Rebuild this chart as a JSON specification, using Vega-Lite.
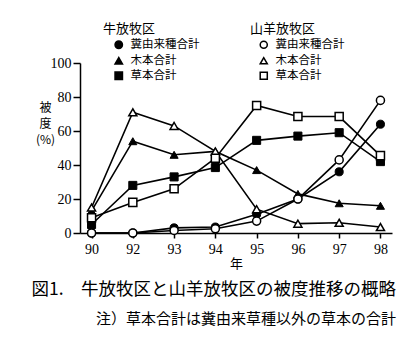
{
  "$schema": "https://vega.github.io/schema/vega-lite/v6.json",
  "width": 312,
  "height": 170,
  "autosize": "none",
  "padding": {"left": 80, "top": 63, "right": 26, "bottom": 119},
  "background": "white",
  "config": {
    "view": {"stroke": null},
    "font": "Noto Sans CJK JP",
    "axis": {"domainColor": "black", "tickColor": "black", "labelColor": "black", "titleColor": "black", "grid": false, "domainWidth": 1.5, "tickWidth": 1.5},
    "legend": {"titleFont": "Noto Sans CJK JP", "labelFont": "Noto Sans CJK JP", "titleFontWeight": "normal", "titleFontSize": 13, "labelFontSize": 11.5, "titleColor": "black", "labelColor": "black", "padding": 0}
  },
  "title": {
    "text": "図1.　牛放牧区と山羊放牧区の被度推移の概略",
    "subtitle": "注）草本合計は糞由来草種以外の草本の合計",
    "orient": "bottom",
    "anchor": "end",
    "frame": "group",
    "offset": 11,
    "dx": 4,
    "font": "Noto Sans CJK JP",
    "fontSize": 17.5,
    "fontWeight": "normal",
    "color": "black",
    "subtitleFont": "Noto Sans CJK JP",
    "subtitleFontSize": 15,
    "subtitleColor": "black",
    "subtitlePadding": 13
  },
  "data": {
    "values": [
      {"region": "牛", "type": "糞由来種合計", "year": "90", "value": 0},
      {"region": "牛", "type": "糞由来種合計", "year": "92", "value": 0},
      {"region": "牛", "type": "糞由来種合計", "year": "93", "value": 3},
      {"region": "牛", "type": "糞由来種合計", "year": "94", "value": 3.5},
      {"region": "牛", "type": "糞由来種合計", "year": "95", "value": 11},
      {"region": "牛", "type": "糞由来種合計", "year": "96", "value": 20},
      {"region": "牛", "type": "糞由来種合計", "year": "97", "value": 36},
      {"region": "牛", "type": "糞由来種合計", "year": "98", "value": 64},
      {"region": "牛", "type": "木本合計", "year": "90", "value": 13},
      {"region": "牛", "type": "木本合計", "year": "92", "value": 54},
      {"region": "牛", "type": "木本合計", "year": "93", "value": 46},
      {"region": "牛", "type": "木本合計", "year": "94", "value": 48},
      {"region": "牛", "type": "木本合計", "year": "95", "value": 37},
      {"region": "牛", "type": "木本合計", "year": "96", "value": 23},
      {"region": "牛", "type": "木本合計", "year": "97", "value": 17.5},
      {"region": "牛", "type": "木本合計", "year": "98", "value": 16},
      {"region": "牛", "type": "草本合計", "year": "90", "value": 5},
      {"region": "牛", "type": "草本合計", "year": "92", "value": 28},
      {"region": "牛", "type": "草本合計", "year": "93", "value": 33},
      {"region": "牛", "type": "草本合計", "year": "94", "value": 38.5},
      {"region": "牛", "type": "草本合計", "year": "95", "value": 54.5},
      {"region": "牛", "type": "草本合計", "year": "96", "value": 57},
      {"region": "牛", "type": "草本合計", "year": "97", "value": 59},
      {"region": "牛", "type": "草本合計", "year": "98", "value": 42},
      {"region": "山羊", "type": "糞由来種合計", "year": "90", "value": 0},
      {"region": "山羊", "type": "糞由来種合計", "year": "92", "value": 0},
      {"region": "山羊", "type": "糞由来種合計", "year": "93", "value": 1.5},
      {"region": "山羊", "type": "糞由来種合計", "year": "94", "value": 2.5},
      {"region": "山羊", "type": "糞由来種合計", "year": "95", "value": 7},
      {"region": "山羊", "type": "糞由来種合計", "year": "96", "value": 20},
      {"region": "山羊", "type": "糞由来種合計", "year": "97", "value": 43},
      {"region": "山羊", "type": "糞由来種合計", "year": "98", "value": 78},
      {"region": "山羊", "type": "木本合計", "year": "90", "value": 15},
      {"region": "山羊", "type": "木本合計", "year": "92", "value": 71},
      {"region": "山羊", "type": "木本合計", "year": "93", "value": 63},
      {"region": "山羊", "type": "木本合計", "year": "94", "value": 48},
      {"region": "山羊", "type": "木本合計", "year": "95", "value": 14},
      {"region": "山羊", "type": "木本合計", "year": "96", "value": 5.5},
      {"region": "山羊", "type": "木本合計", "year": "97", "value": 6},
      {"region": "山羊", "type": "木本合計", "year": "98", "value": 3.5},
      {"region": "山羊", "type": "草本合計", "year": "90", "value": 9},
      {"region": "山羊", "type": "草本合計", "year": "92", "value": 18},
      {"region": "山羊", "type": "草本合計", "year": "93", "value": 26},
      {"region": "山羊", "type": "草本合計", "year": "94", "value": 44},
      {"region": "山羊", "type": "草本合計", "year": "95", "value": 75},
      {"region": "山羊", "type": "草本合計", "year": "96", "value": 68.5},
      {"region": "山羊", "type": "草本合計", "year": "97", "value": 68.5},
      {"region": "山羊", "type": "草本合計", "year": "98", "value": 45.5}
    ]
  },
  "encoding": {
    "x": {
      "field": "year", "type": "ordinal",
      "scale": {"type": "point", "domain": ["90","92","93","94","95","96","97","98"], "padding": 0.28},
      "axis": {"title": "年", "labelAngle": 0, "labelFont": "Liberation Serif", "labelFontSize": 14, "tickSize": 5, "labelPadding": 4, "titleFont": "Noto Sans CJK JP", "titleFontSize": 13, "titleFontWeight": "normal", "titlePadding": 1}
    },
    "y": {
      "field": "value", "type": "quantitative",
      "scale": {"domain": [0, 100], "nice": false, "zero": true},
      "axis": {"values": [0,20,40,60,80,100], "title": ["被","度","","(%)"], "titleAngle": 0, "titleAlign": "center", "titleBaseline": "top", "titleX": -35, "titleY": 39, "titleLineHeight": 16, "titleFontSize": 12, "titleFontWeight": "normal", "labelFont": "Liberation Serif", "labelFontSize": 14, "tickSize": 7, "labelPadding": 2}
    }
  },
  "layer": [
    {
      "mark": {"type": "line", "color": "black", "strokeWidth": 1.6},
      "encoding": {"detail": [{"field": "region"}, {"field": "type"}]}
    },
    {
      "transform": [{"filter": "datum.region === '牛'"}],
      "mark": {"type": "point", "filled": true, "fill": "black", "stroke": "black", "strokeWidth": 1, "size": 65, "opacity": 1},
      "encoding": {
        "shape": {
          "field": "type", "type": "nominal",
          "scale": {"domain": ["糞由来種合計","木本合計","草本合計"], "range": ["circle","triangle-up","square"]},
          "legend": {"title": "牛放牧区", "orient": "none", "legendX": 23, "legendY": -40, "symbolOffset": 10, "labelOffset": 6, "rowPadding": 2, "titlePadding": 3, "symbolSize": 55,
            "encode": {"symbols": {"update": {"fill": {"value": "black"}, "stroke": {"value": "black"}, "strokeWidth": {"value": 1}, "opacity": {"value": 1}}}}}
        }
      }
    },
    {
      "transform": [{"filter": "datum.region === '山羊'"}],
      "mark": {"type": "point", "filled": false, "fill": "white", "stroke": "black", "strokeWidth": 1.5, "size": 65, "opacity": 1, "fillOpacity": 1},
      "encoding": {
        "shape": {
          "field": "type", "type": "nominal",
          "scale": {"domain": ["糞由来種合計","木本合計","草本合計"], "range": ["circle","triangle-up","square"]},
          "legend": {"title": "山羊放牧区", "orient": "none", "legendX": 170, "legendY": -40, "symbolOffset": 8, "labelOffset": 6, "rowPadding": 2, "titlePadding": 3, "symbolSize": 50,
            "encode": {"symbols": {"update": {"fill": {"value": "white"}, "stroke": {"value": "black"}, "strokeWidth": {"value": 1.5}, "opacity": {"value": 1}, "fillOpacity": {"value": 1}, "strokeOpacity": {"value": 1}}}}}
        }
      }
    }
  ],
  "resolve": {"scale": {"shape": "independent"}, "legend": {"shape": "independent"}}
}
